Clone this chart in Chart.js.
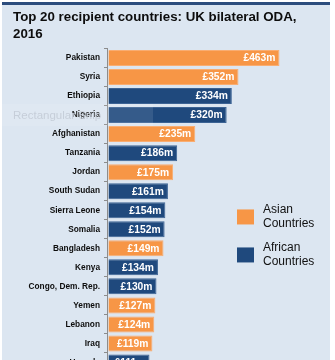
<!DOCTYPE html>
<html>
<head>
<meta charset="utf-8">
<script src="https://cdn.jsdelivr.net/npm/chart.js@4/dist/chart.umd.min.js"></script>
<style>
  html, body { margin: 0; padding: 0; background: #ffffff; overflow: hidden; width: 335px; height: 360px; }
  #wrap { position: absolute; left: 2px; top: 2px; width: 328px; height: 385px; background: #dce6f1; border-top: 3px solid #2c4d7e; }
  #c { display: block; }
  #snip { position: absolute; left: 0; top: 104px; width: 153px; height: 22px; background: rgba(255,255,255,0.1);
          font-family: "Liberation Sans", Arial, sans-serif; font-size: 11.5px; color: #c6ced9; line-height: 22px; padding-left: 13px; box-sizing: border-box; white-space: nowrap; }
</style>
</head>
<body>
<div id="wrap"><canvas id="c" width="328" height="376"></canvas></div>
<div id="snip">Rectangular Snip</div>
<script>
const titleLines = ["Top 20 recipient countries: UK bilateral ODA,", "2016"];
const countries = ["Pakistan", "Syria", "Ethiopia", "Nigeria", "Afghanistan", "Tanzania", "Jordan", "South Sudan", "Sierra Leone", "Somalia", "Bangladesh", "Kenya", "Congo, Dem. Rep.", "Yemen", "Lebanon", "Iraq", "Uganda"];
const values = [463, 352, 334, 320, 235, 186, 175, 161, 154, 152, 149, 134, 130, 127, 124, 119, 111];
const regions = ["Asia", "Asia", "Africa", "Africa", "Asia", "Africa", "Asia", "Africa", "Africa", "Africa", "Asia", "Africa", "Africa", "Asia", "Asia", "Asia", "Africa"];
const seriesNames = ["Asian\nCountries", "African\nCountries"];
const seriesKeys = ["Asia", "Africa"];
const seriesColors = ["#f79646", "#1f497d"];
const seriesBorders = ["#f9ad72", "#3c6394"];

const FONT = '"Liberation Sans", Arial, sans-serif';

const datasets = seriesKeys.map((k, i) => ({
  label: seriesNames[i],
  data: values.map((v, j) => regions[j] === k ? v : null),
  backgroundColor: seriesColors[i],
  borderColor: seriesBorders[i],
  borderWidth: 1,
  barPercentage: 0.84,
  categoryPercentage: 1.0
}));

const valueLabels = {
  id: 'valueLabels',
  afterDatasetsDraw(chart) {
    const ctx = chart.ctx;
    ctx.save();
    ctx.font = 'bold 10.3px ' + FONT;
    ctx.fillStyle = '#ffffff';
    ctx.textAlign = 'right';
    ctx.textBaseline = 'middle';
    chart.data.datasets.forEach((ds, di) => {
      const meta = chart.getDatasetMeta(di);
      meta.data.forEach((bar, j) => {
        const v = ds.data[j];
        if (v === null || v === undefined) return;
        ctx.fillText('£' + v + 'm', bar.x - 4, bar.y + 0.5);
      });
    });
    ctx.restore();
  }
};

const customLegend = {
  id: 'customLegend',
  afterDraw(chart) {
    const ctx = chart.ctx;
    const a = chart.chartArea;
    const x0 = a.left + 130;
    const ys = [a.top + 168.5, a.top + 206.5];
    ctx.save();
    chart.data.datasets.forEach((ds, i) => {
      const cy = ys[i];
      ctx.fillStyle = seriesColors[i];
      ctx.fillRect(x0, cy - 7.5, 17, 15);
      ctx.fillStyle = '#111111';
      ctx.font = '12px ' + FONT;
      ctx.textAlign = 'left';
      ctx.textBaseline = 'middle';
      const lines = ds.label.split('\n');
      lines.forEach((ln, k) => {
        ctx.fillText(ln, x0 + 26, cy - 7 + k * 14);
      });
    });
    ctx.restore();
  }
};

new Chart(document.getElementById('c'), {
  type: 'bar',
  data: { labels: countries, datasets: datasets },
  options: {
    indexAxis: 'y',
    responsive: false,
    animation: false,
    layout: { padding: { left: 11, right: 1.4, top: 0, bottom: 0 } },
    plugins: {
      legend: { display: false },
      tooltip: { enabled: false },
      title: {
        display: true,
        text: titleLines,
        align: 'start',
        color: '#0d0d0d',
        font: { family: FONT, size: 13.3, weight: 'bold', lineHeight: 1.28 },
        padding: { top: 4, bottom: 5.4 }
      }
    },
    scales: {
      x: {
        display: false,
        stacked: true,
        min: -4,
        max: 596
      },
      y: {
        stacked: true,
        afterFit(s) { s.width = 94; },
        grid: { drawOnChartArea: false, drawTicks: true, tickLength: 3, color: '#8c8c8c', offset: true },
        border: { display: true, color: '#8c8c8c', width: 1 },
        ticks: { color: '#0d0d0d', padding: 4, font: { family: FONT, size: 8.3, weight: 'bold' }, autoSkip: false }
      }
    }
  },
  plugins: [valueLabels, customLegend]
});
</script>
</body>
</html>
